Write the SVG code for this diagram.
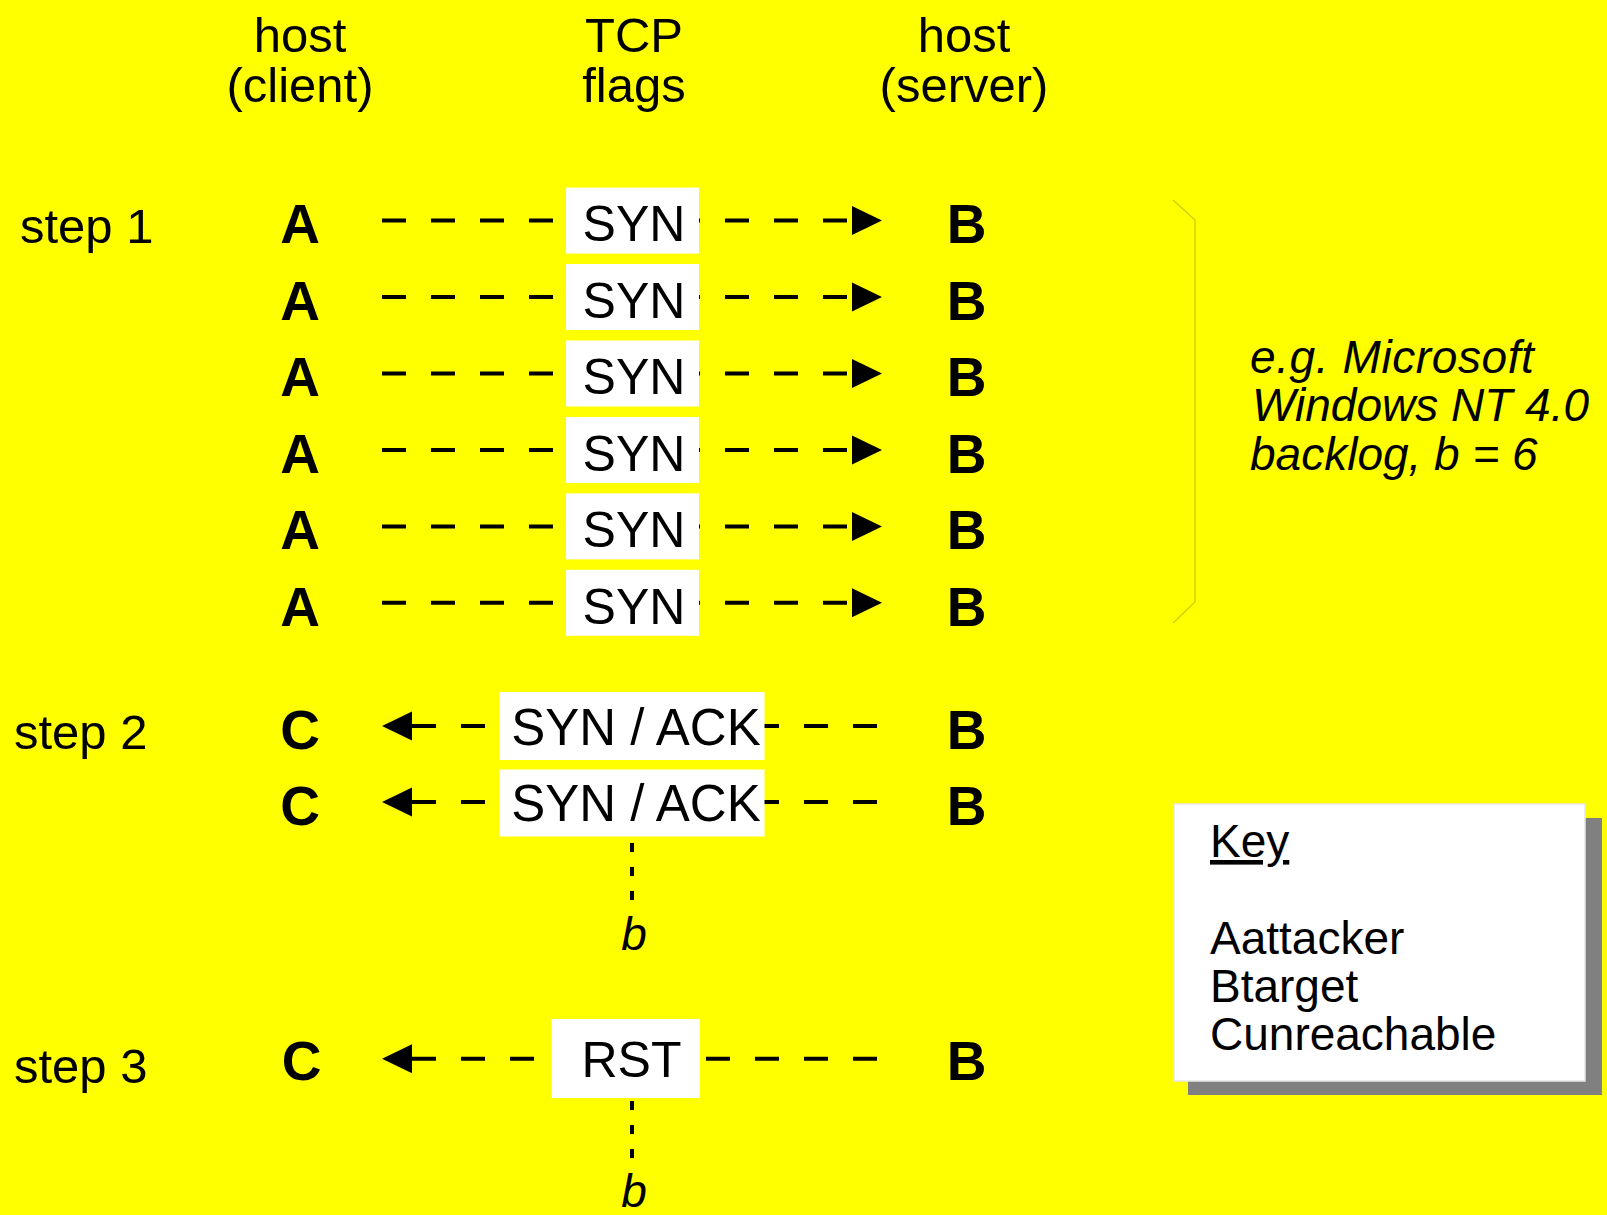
<svg xmlns="http://www.w3.org/2000/svg" width="1607" height="1215" viewBox="0 0 1607 1215">
<defs>
<style>
text{font-family:"Liberation Sans",Arial,sans-serif;fill:#000}
.hdr{font-size:49px;text-anchor:middle}
.step{font-size:49px}
.host{font-size:55px;font-weight:bold;text-anchor:middle}
.flag{font-size:50px;text-anchor:middle}
.box{fill:#fff}
.conn{stroke:#000;stroke-width:4;stroke-dasharray:24 25;fill:none}
.dot{stroke:#000;stroke-width:4;stroke-dasharray:9 15;fill:none}
.head{fill:#000}
.it{font-style:italic;font-size:46px}
.key{font-size:46px}
</style>
</defs>
<rect width="1607" height="1215" fill="#FFFF00"/>

<g id="headers">
<text class="hdr" x="300" y="52"><tspan x="300">host</tspan><tspan x="300" dy="50">(client)</tspan></text>
<text class="hdr" x="634" y="52"><tspan x="634">TCP</tspan><tspan x="634" dy="50">flags</tspan></text>
<text class="hdr" x="964" y="52"><tspan x="964">host</tspan><tspan x="964" dy="50">(server)</tspan></text>
</g>

<g id="step-labels">
<text class="step" x="20" y="243">step 1</text>
<text class="step" x="14" y="749">step 2</text>
<text class="step" x="14" y="1083">step 3</text>
</g>

<g id="connectors">
<line class="conn" x1="382" y1="220.6" x2="852" y2="220.6"/>
<polygon class="head" points="852,206 882,220.6 852,235"/>
<line class="conn" x1="382" y1="297" x2="852" y2="297"/>
<polygon class="head" points="852,282.5 882,297 852,311.5"/>
<line class="conn" x1="382" y1="373.5" x2="852" y2="373.5"/>
<polygon class="head" points="852,359 882,373.5 852,388"/>
<line class="conn" x1="382" y1="450" x2="852" y2="450"/>
<polygon class="head" points="852,435.5 882,450 852,464.5"/>
<line class="conn" x1="382" y1="526.4" x2="852" y2="526.4"/>
<polygon class="head" points="852,512 882,526.4 852,541"/>
<line class="conn" x1="382" y1="602.8" x2="852" y2="602.8"/>
<polygon class="head" points="852,588.3 882,602.8 852,617.3"/>

<line class="conn" x1="877" y1="726" x2="412" y2="726"/>
<polygon class="head" points="382,726 412,711.5 412,740.5"/>
<line class="conn" x1="877" y1="802" x2="412" y2="802"/>
<polygon class="head" points="382,802 412,787.5 412,816.5"/>
<line class="conn" x1="877" y1="1058.7" x2="412" y2="1058.7"/>
<polygon class="head" points="382,1058.7 412,1044.2 412,1073.2"/>

<line class="dot" x1="632" y1="843" x2="632" y2="905"/>
<line class="dot" x1="632" y1="1101" x2="632" y2="1170"/>

<path d="M1173,200 L1195,220 L1195,602 L1173,623" fill="none" stroke="#d2d200" stroke-width="1.5"/>
</g>

<g id="step1">
<g id="row1"><text class="host" x="300" y="243.3">A</text><rect class="box" x="566" y="187.6" width="133" height="66"/><text class="flag" x="634" y="241.3">SYN</text><text class="host" x="966.5" y="243.3">B</text></g>
<g id="row2"><text class="host" x="300" y="319.7">A</text><rect class="box" x="566" y="264" width="133" height="66"/><text class="flag" x="634" y="317.7">SYN</text><text class="host" x="966.5" y="319.7">B</text></g>
<g id="row3"><text class="host" x="300" y="396.2">A</text><rect class="box" x="566" y="340.5" width="133" height="66"/><text class="flag" x="634" y="394.2">SYN</text><text class="host" x="966.5" y="396.2">B</text></g>
<g id="row4"><text class="host" x="300" y="472.6">A</text><rect class="box" x="566" y="417" width="133" height="66"/><text class="flag" x="634" y="470.6">SYN</text><text class="host" x="966.5" y="472.6">B</text></g>
<g id="row5"><text class="host" x="300" y="549.1">A</text><rect class="box" x="566" y="493.4" width="133" height="66"/><text class="flag" x="634" y="547.1">SYN</text><text class="host" x="966.5" y="549.1">B</text></g>
<g id="row6"><text class="host" x="300" y="625.5">A</text><rect class="box" x="566" y="569.8" width="133" height="66"/><text class="flag" x="634" y="623.5">SYN</text><text class="host" x="966.5" y="625.5">B</text></g>
</g>

<g id="note">
<text class="it" x="1250" y="373" letter-spacing="0.6">e.g. Microsoft</text>
<text class="it" x="1252" y="421">Windows NT 4.0</text>
<text class="it" x="1250" y="470">backlog, b = 6</text>
</g>

<g id="step2">
<g id="row7"><text class="host" x="300" y="749">C</text><rect class="box" x="499.5" y="692" width="265" height="68"/><text class="flag" x="636" y="745" style="font-size:51px">SYN / ACK</text><text class="host" x="966.5" y="749">B</text></g>
<g id="row8"><text class="host" x="300" y="825">C</text><rect class="box" x="499.5" y="769.5" width="265" height="67"/><text class="flag" x="636" y="821" style="font-size:51px">SYN / ACK</text><text class="host" x="966.5" y="825">B</text></g>
<text class="it" x="634" y="950" text-anchor="middle">b</text>
</g>

<g id="step3">
<text class="host" x="301.5" y="1079.5">C</text>
<rect class="box" x="551.7" y="1019" width="148" height="79"/>
<text class="flag" x="631.5" y="1077">RST</text>
<text class="host" x="966.5" y="1079.5">B</text>
<text class="it" x="634" y="1207" text-anchor="middle">b</text>
</g>

<g id="key">
<rect x="1188" y="818" width="414" height="277" fill="#808080"/>
<rect x="1174" y="804" width="411" height="277" fill="#fff" stroke="#e6e6e6" stroke-width="1.5"/>
<text class="key" x="1210" y="857" text-decoration="underline">Key</text>
<text class="key" x="1210" y="954">Aattacker</text>
<text class="key" x="1210" y="1002">Btarget</text>
<text class="key" x="1210" y="1050">Cunreachable</text>
</g>
</svg>
